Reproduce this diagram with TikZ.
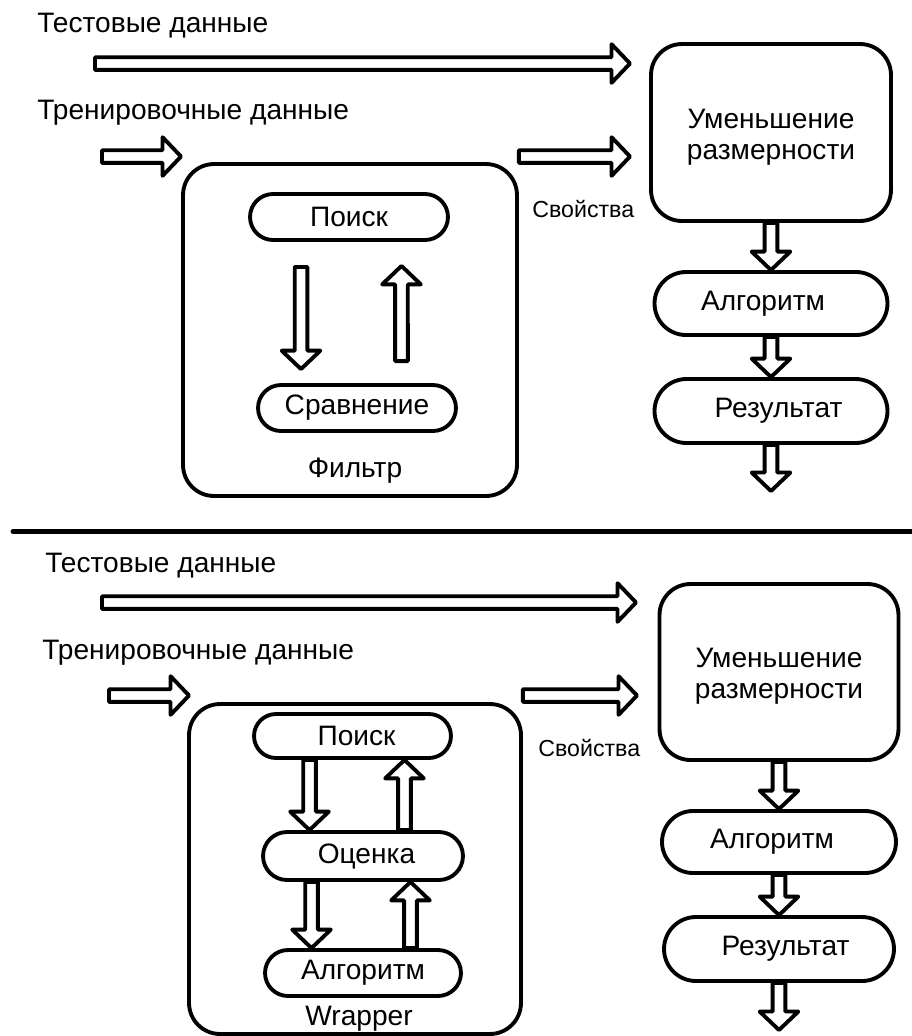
\documentclass[tikz,border=0pt]{standalone}
\usepackage{fontspec}
\setmainfont{Liberation Sans}
\usetikzlibrary{calc,shapes.misc}

\newcommand\mainlbl{\fontsize{16}{17.5}\selectfont}
\newcommand\smalllbl{\fontsize{13.2}{15}\selectfont}

\tikzset{
  pill/.style={draw, line width=2.2pt, rounded rectangle, fill=white, font=\mainlbl, inner sep=0pt},
  frame/.style={draw, line width=2.2pt, rounded corners=0.62cm},
  lbl/.style={font=\mainlbl, inner sep=0pt, anchor=base west},
  small/.style={font=\smalllbl, inner sep=0pt, anchor=base west},
  fat/.style={draw, line width=2.2pt, fill=white, line join=round,
    to path={let \p1=($(\tikztotarget)-(\tikztostart)$),
      \n1={veclen(\x1,\y1)}, \n2={atan2(\y1,\x1)} in
      {[shift={(\tikztostart)}, rotate=\n2]
        (0pt,-3.6pt) -- (\n1-10.5pt,-3.6pt) -- (\n1-10.5pt,-11pt) -- (\n1,0pt)
        -- (\n1-10.5pt,11pt) -- (\n1-10.5pt,3.6pt) -- (0pt,3.6pt) -- cycle}}},
  sep/.style={line width=2.8pt, line cap=round}
}

\begin{document}
\begin{tikzpicture}[x=0.02cm,y=-0.02cm]
  \useasboundingbox (0,0) rectangle (912,1036);

  % upper scheme: filter
  \node[lbl] (test1) at (37,32) {Тестовые данные};
  \node[lbl] (train1) at (37,119) {Тренировочные данные};
  \node[frame, minimum width=6.68cm, minimum height=6.64cm] (filter) at (350,330) {};
  \node[pill, minimum width=3.96cm, minimum height=0.92cm] (poisk1) at (349,217) {Поиск};
  \node[pill, minimum width=3.96cm, minimum height=0.92cm] (sravn) at (357,408) {Сравнение};
  \node[font=\mainlbl, anchor=base] (filterlbl) at (355,477) {Фильтр};
  \node[small] (prop1) at (532,217.5) {Свойства};
  \node[frame, minimum width=4.8cm, minimum height=3.54cm] (umen1) at (771,132.5) {};
  \node[font=\mainlbl, align=center] (umen1txt) at ([yshift=-0.1cm]umen1.center) {Уменьшение\\размерности};
  \node[pill, minimum width=4.66cm, minimum height=1.26cm] (alg1) at (771,303.5) {Алгоритм\hspace*{0.32cm}};
  \node[pill, minimum width=4.66cm, minimum height=1.28cm] (res1) at (771,411) {\hspace*{0.3cm}Результат};

  \coordinate (t1s) at (95,63.5);
  \coordinate (t1e) at (630,63.5);
  \coordinate (r1s) at (102,156.5);
  \coordinate (r1e) at (181,156.5);
  \coordinate (p1e) at (630,156.5);
  \coordinate (out1) at (771,491);

  \draw[fat] (t1s) to (t1e);
  \draw[fat] (r1s) to (r1e);
  \draw[fat] (filter.east |- r1s) to (p1e);
  \draw[fat] ([xshift=-0.96cm,yshift=-0.5cm]poisk1.south) to ([xshift=-1.12cm,yshift=0.28cm]sravn.north);
  \draw[fat] ([xshift=0.89cm,yshift=0.44cm]sravn.north) to ([xshift=1.05cm,yshift=-0.48cm]poisk1.south);
  \draw[fat] (umen1.south) to (alg1.north);
  \draw[fat] (alg1.south) to (res1.north);
  \draw[fat] (res1.south) to (out1);

  \draw[sep] (13,531.5) -- (912,531.5);

  % lower scheme: wrapper
  \node[lbl] (test2) at (45,572) {Тестовые данные};
  \node[lbl] (train2) at (42,659) {Тренировочные данные};
  \node[frame, minimum width=6.64cm, minimum height=6.6cm] (wrap) at (355,869) {};
  \node[pill, minimum width=3.94cm, minimum height=0.88cm] (poisk2) at (352.5,736) {\hspace*{0.16cm}Поиск};
  \node[pill, minimum width=4cm, minimum height=0.96cm] (ocenka) at (363,856) {\hspace*{0.14cm}Оценка};
  \node[pill, minimum width=3.92cm, minimum height=0.92cm] (alg2in) at (363,973) {Алгоритм};
  \node[font=\mainlbl, anchor=base] (wraplbl) at (359,1025) {Wrapper};
  \node[small] (prop2) at (538,756.5) {Свойства};
  \node[frame, minimum width=4.78cm, minimum height=3.52cm] (umen2) at (779,672) {};
  \node[font=\mainlbl, align=center] (umen2txt) at ([yshift=-0.08cm]umen2.center) {Уменьшение\\размерности};
  \node[pill, minimum width=4.68cm, minimum height=1.24cm] (alg2) at (779,842) {Алгоритм\hspace*{0.28cm}};
  \node[pill, minimum width=4.6cm, minimum height=1.28cm] (res2) at (779,949) {\hspace*{0.26cm}Результат};

  \coordinate (t2s) at (102,602.5);
  \coordinate (t2e) at (636,602.5);
  \coordinate (r2s) at (109,695.5);
  \coordinate (r2e) at (189,695.5);
  \coordinate (p2e) at (637,695.5);
  \coordinate (out2) at (779,1030);

  \draw[fat] (t2s) to (t2e);
  \draw[fat] (r2s) to (r2e);
  \draw[fat] (wrap.east |- r2s) to (p2e);
  \draw[fat] ([xshift=-0.86cm]poisk2.south) to ([xshift=-1.07cm]ocenka.north);
  \draw[fat] ([xshift=0.83cm]ocenka.north) to ([xshift=1.04cm]poisk2.south);
  \draw[fat] ([xshift=-1.03cm]ocenka.south) to ([xshift=-1.03cm]alg2in.north);
  \draw[fat] ([xshift=0.95cm]alg2in.north) to ([xshift=0.95cm]ocenka.south);
  \draw[fat] (umen2.south) to (alg2.north);
  \draw[fat] (alg2.south) to (res2.north);
  \draw[fat] (res2.south) to (out2);
\end{tikzpicture}
\end{document}
